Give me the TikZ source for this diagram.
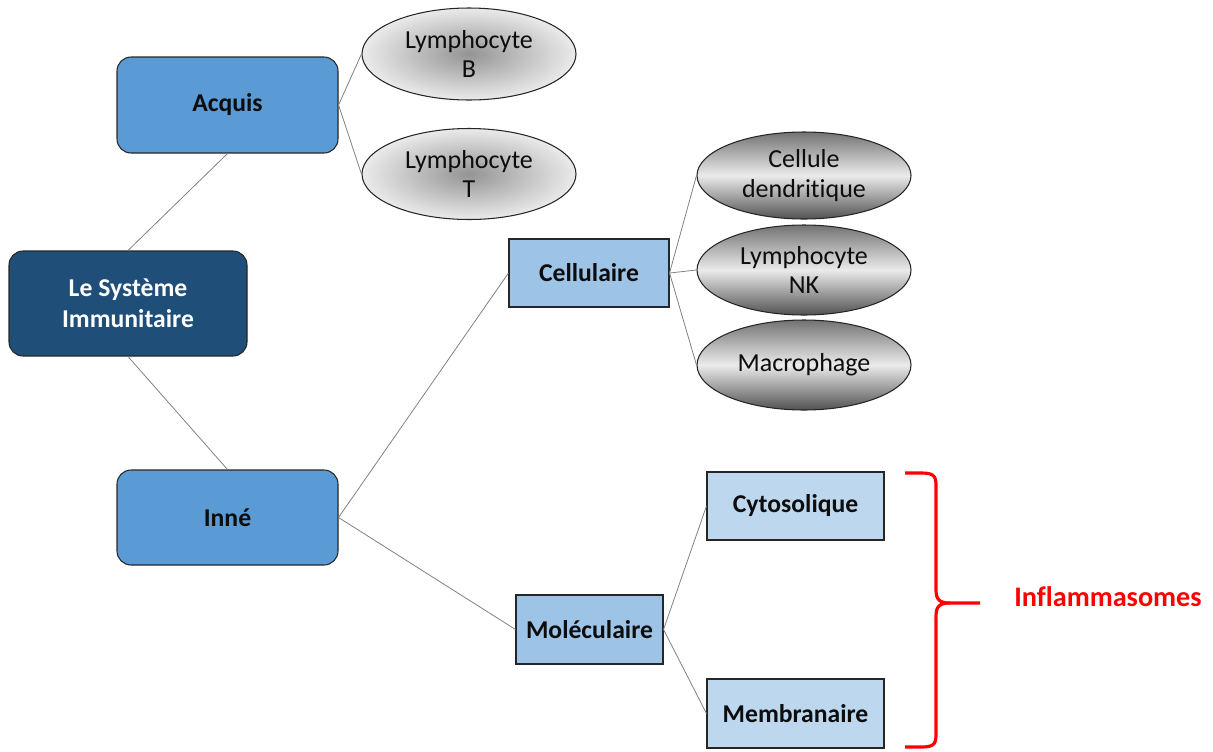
\documentclass[tikz,border=0pt]{standalone}
\usepackage{fontspec}
\setmainfont[Ligatures=NoCommon]{Carlito}
\usetikzlibrary{shapes.geometric}
\def\pxu{0.02cm}
\definecolor{midblue}{HTML}{5B9BD5}
\definecolor{darkblue}{HTML}{1F4E79}
\definecolor{lightblue}{HTML}{9DC3E6}
\definecolor{paleblue}{HTML}{BDD7EE}
\definecolor{txt}{HTML}{0D0D0D}
\definecolor{bracered}{HTML}{FF0000}
\tikzset{
  base/.style={draw=black!85, line width=0.6pt, align=center, inner sep=0pt,
    font=\fontsize{14.8}{17}\selectfont, text=txt},
  roundbox/.style={base, rounded corners=8pt, fill=midblue, font=\fontsize{14.6}{17}\selectfont\bfseries},
  rootbox/.style={base, rounded corners=8pt, fill=darkblue, text=white, font=\fontsize{14.6}{17.5}\selectfont\bfseries},
  subbox/.style={base, fill=lightblue, font=\fontsize{14.6}{17}\selectfont\bfseries},
  leafbox/.style={base, fill=paleblue, font=\fontsize{14.6}{17}\selectfont\bfseries},
  radell/.style={base, ellipse, minimum width=214*\pxu, inner color=black!42, outer color=black!8},
  metell/.style={base, ellipse, minimum width=214*\pxu, top color=black!55, bottom color=black!68, middle color=black!8},
  conn/.style={draw=black!50, line width=0.45pt},
}
\begin{document}
\begin{tikzpicture}[x=0.02cm, y=-0.02cm]
\useasboundingbox (0,0) rectangle (1213,751);
% boxes
\node[roundbox, minimum width=221*\pxu, minimum height=96*\pxu] (acq) at (227.5,105) {Acquis};
\node[rootbox, minimum width=238*\pxu, minimum height=105*\pxu] (sys) at (128,303.5) {Le Système\\Immunitaire};
\node[roundbox, minimum width=221*\pxu, minimum height=95*\pxu] (inne) at (227.5,517.5) {Inné};
\node[subbox, minimum width=160*\pxu, minimum height=68*\pxu] (cell) at (589,273) {Cellulaire};
\node[subbox, minimum width=147*\pxu, minimum height=69*\pxu] (mol) at (589.5,629.5) {Moléculaire};
\node[leafbox, minimum width=177*\pxu, minimum height=68*\pxu] (cyto) at (795.5,506) {Cytosolique};
\node[leafbox, minimum width=177*\pxu, minimum height=69*\pxu] (memb) at (795.5,713.5) {Membranaire};
% ellipses
\node[radell, minimum height=92*\pxu] (lb) at (469,54) {Lymphocyte\\B};
\node[radell, minimum height=91*\pxu] (lt) at (469,174) {Lymphocyte\\T};
\node[metell, minimum height=87*\pxu] (cd) at (804,175.5) {Cellule\\dendritique};
\node[metell, minimum height=90*\pxu] (nk) at (804,270) {Lymphocyte\\NK};
\node[metell, minimum height=90*\pxu] (mac) at (804,365) {Macrophage};
% connectors
\draw[conn] (sys.north) -- (acq.south);
\draw[conn] (sys.south) -- (inne.north);
\draw[conn] (acq.east) -- (lb.west);
\draw[conn] (acq.east) -- (lt.west);
\draw[conn] (inne.east) -- (cell.west);
\draw[conn] (inne.east) -- (mol.west);
\draw[conn] (cell.east) -- (cd.west);
\draw[conn] (cell.east) -- (nk.west);
\draw[conn] (cell.east) -- (mac.west);
\draw[conn] (mol.east) -- (cyto.west);
\draw[conn] (mol.east) -- (memb.west);
% brace
\coordinate (btop) at (905,473);
\coordinate (bbot) at (905,747);
\coordinate (btip) at (980,603);
\draw[bracered, line width=1.8pt, line join=round]
  (btop) -- (922,473) .. controls (936,473) and (936,478) .. (936,488)
  -- (936,590) .. controls (936,600) and (940,603) .. (950,603) -- (btip);
\draw[bracered, line width=1.8pt, line join=round]
  (bbot) -- (922,747) .. controls (936,747) and (936,742) .. (936,732)
  -- (936,616) .. controls (936,606) and (940,603) .. (950,603);
\node[text=bracered, font=\fontsize{16.1}{19}\selectfont\bfseries, inner sep=0pt] (infl) at (1108,597) {Inflammasomes};
\end{tikzpicture}
\end{document}
